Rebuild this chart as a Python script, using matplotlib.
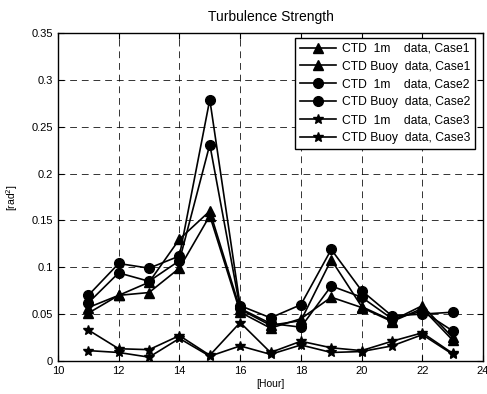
import matplotlib
matplotlib.use("Agg")
import matplotlib.pyplot as plt

plt.rcParams['font.family'] = ['Liberation Sans', 'DejaVu Sans']

hours = [11, 12, 13, 14, 15, 16, 17, 18, 19, 20, 21, 22, 23]

case1_1m   = [0.057, 0.070, 0.084, 0.130, 0.160, 0.055, 0.038, 0.043, 0.108, 0.058, 0.043, 0.059, 0.025]
case1_buoy = [0.051, 0.070, 0.073, 0.099, 0.155, 0.052, 0.035, 0.045, 0.068, 0.057, 0.042, 0.056, 0.022]
case2_1m   = [0.070, 0.104, 0.099, 0.112, 0.279, 0.059, 0.046, 0.060, 0.119, 0.075, 0.048, 0.050, 0.052]
case2_buoy = [0.062, 0.094, 0.085, 0.107, 0.231, 0.056, 0.040, 0.036, 0.080, 0.068, 0.045, 0.053, 0.032]
case3_1m   = [0.033, 0.013, 0.012, 0.027, 0.006, 0.041, 0.009, 0.021, 0.014, 0.011, 0.021, 0.030, 0.008]
case3_buoy = [0.011, 0.009, 0.004, 0.024, 0.005, 0.016, 0.007, 0.017, 0.009, 0.010, 0.016, 0.028, 0.007]

labels = ["CTD  1m    data, Case1", "CTD Buoy  data, Case1",
          "CTD  1m    data, Case2", "CTD Buoy  data, Case2",
          "CTD  1m    data, Case3", "CTD Buoy  data, Case3"]
series = [case1_1m, case1_buoy, case2_1m, case2_buoy, case3_1m, case3_buoy]
markers = ['^', '^', 'o', 'o', '*', '*']
msizes = [7, 7, 7, 7, 7, 7]

fig = plt.figure(figsize=(4.87, 3.94), dpi=100)
ax = fig.add_axes([0.119, 0.084, 0.873, 0.832])

for s, m, ms, lab in zip(series, markers, msizes, labels):
    ax.plot(hours, s, color='black', lw=1.2, marker=m, ms=ms, label=lab)

ax.set_xlim(10, 24)
ax.set_ylim(0, 0.35)
ax.set_xticks([10, 12, 14, 16, 18, 20, 22, 24])
ax.set_yticks([0, 0.05, 0.1, 0.15, 0.2, 0.25, 0.3, 0.35])
ax.set_yticklabels(['0', '0.05', '0.1', '0.15', '0.2', '0.25', '0.3', '0.35'])
ax.tick_params(direction='in', top=True, right=True, labelsize=8, length=4)
ax.grid(True, color='black', linestyle=(0, (7, 5)), lw=0.7, alpha=0.8)
for sp in ax.spines.values():
    sp.set_linewidth(1.0)

ax.set_title("Turbulence Strength", fontsize=10, pad=9)
ax.set_xlabel("[Hour]", fontsize=7.5, labelpad=2)
ax.set_ylabel("[rad$^2$]", fontsize=7.5, labelpad=8)

leg = ax.legend(loc='upper right', bbox_to_anchor=(0.982, 0.985),
                fontsize=8.7, handlelength=3.0, frameon=True,
                fancybox=False, edgecolor='black', framealpha=1,
                borderpad=0.4, labelspacing=0.48, handletextpad=0.5,
                borderaxespad=0.0)
leg.get_frame().set_linewidth(1.0)

fig.savefig("out.png", dpi=100)
